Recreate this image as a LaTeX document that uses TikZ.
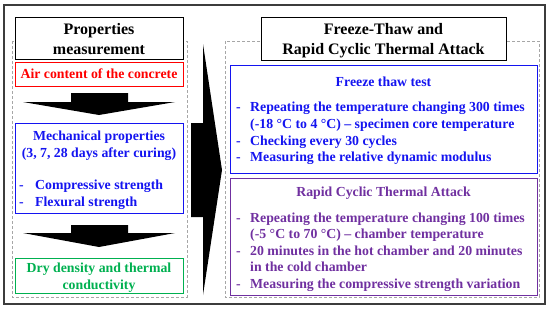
\documentclass[tikz,border=0pt]{standalone}
\usepackage{fontspec}
\setmainfont{Liberation Serif}
\definecolor{cRed}{RGB}{255,0,0}
\definecolor{cBlue}{RGB}{20,20,240}
\definecolor{cGreen}{RGB}{0,176,80}
\definecolor{cPurple}{RGB}{112,48,160}
\definecolor{cFrame}{RGB}{60,60,60}
\tikzset{
  box/.style={draw, line width=1pt, inner sep=0pt},
  dashbox/.style={draw=gray!70, line width=0.8pt, dash pattern=on 3pt off 2pt},
  ttl/.style={font=\fontsize{16}{20}\selectfont\bfseries, inner sep=0pt},
  body/.style={font=\fontsize{13.8}{16.7}\selectfont\bfseries, inner sep=0pt},
  bigarrow/.style={fill=black},
}
\begin{document}
\begin{tikzpicture}[x=1pt,y=-1pt]
\useasboundingbox (0,0) rectangle (550,309);
% outer frame
\draw[cFrame, line width=1.5pt] (4,5) rectangle (545,304);
% dashed containers
\draw[dashbox] (12,41) rectangle (187,297);
\draw[dashbox] (225,41) rectangle (539,297);
% left title
\draw[box, fill=white] (15,17) rectangle (183,59);
\node[ttl, anchor=base] (lt1) at (99,34.5) {Properties};
\node[ttl, anchor=base] (lt2) at (99,54.5) {measurement};
% red box
\draw[box, cRed] (15,62) rectangle (183,86);
\node[body, cRed, anchor=base] (red1) at (99,78.5) {Air content of the concrete};
% arrow 1
\fill[bigarrow] (71,93) -- (128,93) -- (128,102) -- (175,102) -- (99,115) -- (23,102) -- (71,102) -- cycle;
% left blue box
\draw[box, cBlue] (15,123) rectangle (183,213);
\node[body, cBlue, anchor=base] (mb1) at (99,140.5) {Mechanical properties};
\node[body, cBlue, anchor=base] (mb2) at (99,157.5) {(3, 7, 28 days after curing)};
\node[body, cBlue, anchor=base west] (mbd1) at (19,189.5) {-};
\node[body, cBlue, anchor=base west] (mb3) at (35,189.5) {Compressive strength};
\node[body, cBlue, anchor=base west] (mbd2) at (19,206.5) {-};
\node[body, cBlue, anchor=base west] (mb4) at (35,206.5) {Flexural strength};
% arrow 2
\fill[bigarrow] (71,225) -- (128,225) -- (128,233) -- (175,233) -- (99,247) -- (23,233) -- (71,233) -- cycle;
% green box
\draw[box, cGreen] (15,258) rectangle (183,293);
\node[body, cGreen, anchor=base] (gr1) at (99,272.5) {Dry density and thermal};
\node[body, cGreen, anchor=base] (gr2) at (99,289.5) {conductivity};
% middle arrow
\fill[bigarrow] (191,123) -- (203,123) -- (203,44) -- (222,170) -- (203,295) -- (203,217) -- (191,217) -- cycle;
% right title
\draw[box, fill=white] (261,17) rectangle (506,60);
\node[ttl, anchor=base] (rt1) at (383.5,34) {Freeze-Thaw and};
\node[ttl, anchor=base] (rt2) at (383.5,54) {Rapid Cyclic Thermal Attack};
% freeze thaw box
\draw[box, cBlue] (230,65) rectangle (537,173);
\node[body, cBlue, anchor=base] (ft0) at (383.5,86.5) {Freeze thaw test};
\node[body, cBlue, anchor=base west] (ftd1) at (236,111.5) {-};
\node[body, cBlue, anchor=base west] (ft1) at (250,111.5) {Repeating the temperature changing 300 times};
\node[body, cBlue, anchor=base west] (ft2) at (250,128.5) {(-18 °C to 4 °C) – specimen core temperature};
\node[body, cBlue, anchor=base west] (ftd3) at (236,145.5) {-};
\node[body, cBlue, anchor=base west] (ft3) at (250,145.5) {Checking every 30 cycles};
\node[body, cBlue, anchor=base west] (ftd4) at (236,161.5) {-};
\node[body, cBlue, anchor=base west] (ft4) at (250,161.5) {Measuring the relative dynamic modulus};
% rapid cyclic box
\draw[box, cPurple] (230,178) rectangle (537,295);
\node[body, cPurple, anchor=base] (rc0) at (383.5,196.5) {Rapid Cyclic Thermal Attack};
\node[body, cPurple, anchor=base west] (rcd1) at (236,222.5) {-};
\node[body, cPurple, anchor=base west] (rc1) at (250,222.5) {Repeating the temperature changing 100 times};
\node[body, cPurple, anchor=base west] (rc2) at (250,238.5) {(-5 °C to 70 °C) – chamber temperature};
\node[body, cPurple, anchor=base west] (rcd3) at (236,255.5) {-};
\node[body, cPurple, anchor=base west] (rc3) at (250,255.5) {20 minutes in the hot chamber and 20 minutes};
\node[body, cPurple, anchor=base west] (rc4) at (250,271.5) {in the cold chamber};
\node[body, cPurple, anchor=base west] (rcd5) at (236,288.5) {-};
\node[body, cPurple, anchor=base west] (rc5) at (250,288.5) {Measuring the compressive strength variation};
\end{tikzpicture}
\end{document}
